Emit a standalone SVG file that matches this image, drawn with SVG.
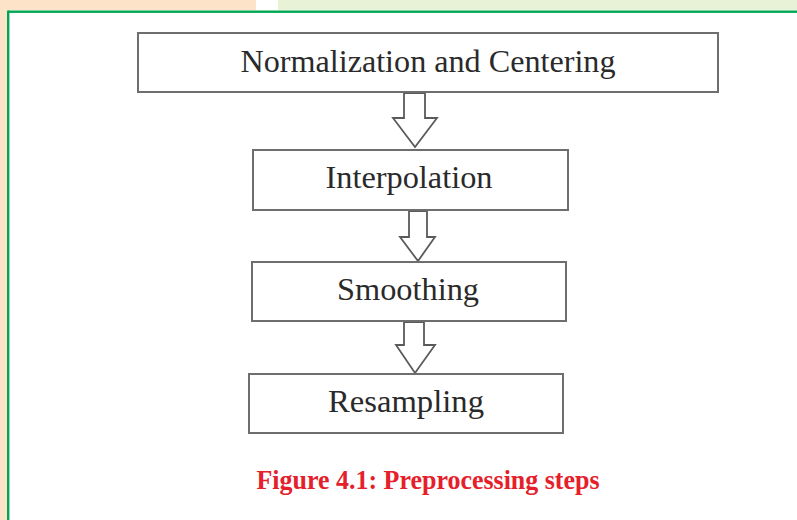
<svg xmlns="http://www.w3.org/2000/svg" width="797" height="520" viewBox="0 0 797 520">
<style>
.box{fill:#fff;stroke:#6e6e6e;stroke-width:2}
.arr{fill:#fff;stroke:#5a5a5a;stroke-width:1.8;stroke-linejoin:miter}
.lbl{font-family:"Liberation Serif","Times New Roman",serif;font-size:31px;fill:#2a2a2a;text-anchor:middle}
.cap{font-family:"Liberation Serif","Times New Roman",serif;font-size:28px;font-weight:bold;fill:#e5202b;text-anchor:middle}
</style>
<rect x="0" y="0" width="797" height="520" fill="#fff"/>
<rect x="0" y="0" width="256" height="10" fill="#fde4c8"/>
<rect x="278" y="0" width="519" height="10" fill="#e8f2d6"/>
<rect x="0" y="0" width="7" height="520" fill="#fde4c8"/>
<rect x="8" y="10.5" width="800" height="2.4" fill="#00a651"/>
<rect x="7" y="10.5" width="2.4" height="520" fill="#00a651"/>
<g id="connectors">
<path class="arr" d="M404,93 L425,93 L425,118 L437,118 L415,147 L393,118 L404,118 Z"/>
<path class="arr" d="M409,211 L427,211 L427,237 L435,237 L418,261 L400,237 L409,237 Z"/>
<path class="arr" d="M404,322 L424,322 L424,345 L435,345 L415,373 L396,345 L404,345 Z"/>
</g>
<g id="n1"><rect class="box" x="138" y="33" width="580" height="59"/><text class="lbl" x="428" y="72" textLength="375" lengthAdjust="spacingAndGlyphs">Normalization and Centering</text></g>
<g id="n2"><rect class="box" x="253" y="150" width="315" height="60"/><text class="lbl" x="409" y="188" textLength="167" lengthAdjust="spacingAndGlyphs">Interpolation</text></g>
<g id="n3"><rect class="box" x="252" y="262" width="314" height="59"/><text class="lbl" x="408" y="300" textLength="142" lengthAdjust="spacingAndGlyphs">Smoothing</text></g>
<g id="n4"><rect class="box" x="249" y="374" width="314" height="59"/><text class="lbl" x="406" y="412" textLength="156" lengthAdjust="spacingAndGlyphs">Resampling</text></g>
<text class="cap" x="428" y="489" textLength="343" lengthAdjust="spacingAndGlyphs">Figure 4.1: Preprocessing steps</text>
</svg>
